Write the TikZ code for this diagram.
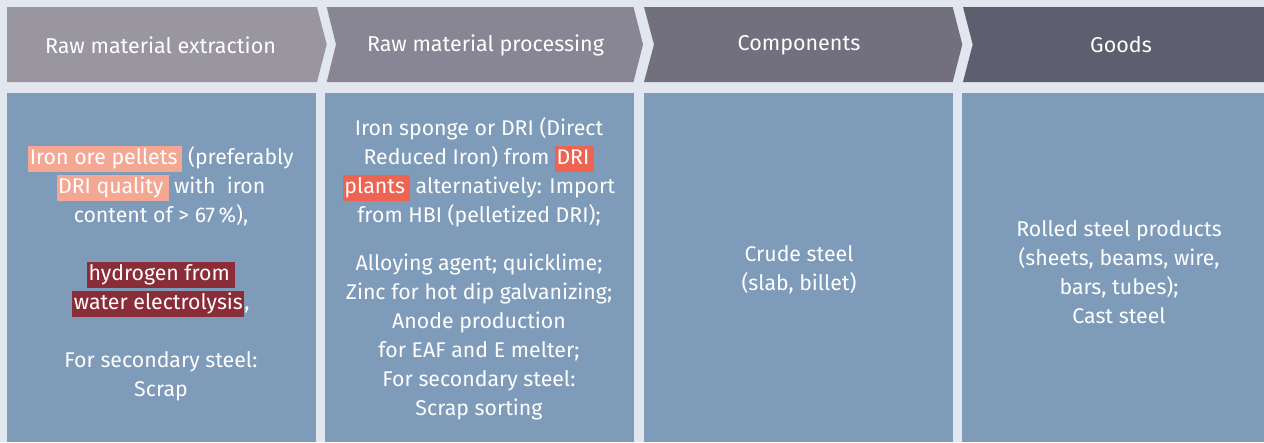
\documentclass[tikz,border=0pt]{standalone}
\usepackage{fontspec}
\setmainfont{Fira Sans}

\definecolor{pagebg}{HTML}{E2E6EE}
\definecolor{cellbg}{HTML}{7E9BBA}
\definecolor{headA}{HTML}{9A96A0}
\definecolor{headB}{HTML}{888594}
\definecolor{headC}{HTML}{72707F}
\definecolor{headD}{HTML}{5E5F6E}
\definecolor{hlsalmon}{HTML}{F4A894}
\definecolor{hlwine}{HTML}{8A2D38}
\definecolor{hlcoral}{HTML}{EE6352}

% highlighted words
\newcommand{\hlmark}[2]{{\setlength{\fboxsep}{1.5pt}\colorbox{#1}{\vrule height 16.5pt depth 6.5pt width 0pt#2}}}

\begin{document}
\begin{tikzpicture}[x=1pt, y=-1pt,
    head/.style={text=white, font=\fontsize{21.5}{24}\selectfont},
    cell/.style={text=white, align=center, font=\fontsize{21.3}{29}\selectfont}]
        % Background
        \useasboundingbox (0,0) rectangle (1264,442);
        \fill[pagebg] (0,0) rectangle (1264,442);

        % Header chevrons
        \fill[headA] (7,7) -- (317,7) -- (326.7,44.5) -- (317,82) -- (7,82) -- cycle;
        \fill[headB] (326.7,7) -- (633.5,7) -- (643,44.5) -- (633.5,82) -- (326.7,82) -- (336,44.5) -- cycle;
        \fill[headC] (644,7) -- (952.7,7) -- (962.3,44.5) -- (952.7,82) -- (644,82) -- (654,44.5) -- cycle;
        \fill[headD] (963,7) -- (1264,7) -- (1264,82) -- (963,82) -- (972.7,44.5) -- cycle;

        \node[head] (extraction) at (160.5,45) {Raw material extraction};
        \node[head] (processing) at (485.5,45) {Raw material processing};
        \node[head] (components) at (799,45) {Components};
        \node[head] (goods) at (1121,45) {Goods};

        % Columns
        \fill[cellbg] (7,93) rectangle (316,442);
        \fill[cellbg] (325,93) rectangle (634,442);
        \fill[cellbg] (644,93) rectangle (953,442);
        \fill[cellbg] (962,93) rectangle (1264,442);

        \node[cell] (ore) at (161,273.5) {\hlmark{hlsalmon}{Iron ore pellets\,} (preferably\\
            \hlmark{hlsalmon}{DRI quality\,} with~ iron\\
            content of > 67\,\%),\\[29pt]
            \hlmark{hlwine}{hydrogen from\,}\\
            \hlmark{hlwine}{water electrolysis},\\[29pt]
            For secondary steel:\\
            Scrap};

        \node[cell] (sponge) at (479,268.5) {Iron sponge or DRI (Direct\\
            Reduced Iron) from \hlmark{hlcoral}{DRI\,}\\
            \hlmark{hlcoral}{plants\,} alternatively: Import\\
            from HBI (pelletized DRI);\\[19pt]
            Alloying agent; quicklime;\\
            Zinc for hot dip galvanizing;\\
            Anode production\\
            for EAF and E melter;\\
            For secondary steel:\\
            Scrap sorting};

        \node[cell] (crude) at (799,269.5) {Crude steel\\(slab, billet)};

        \node[cell] (rolled) at (1119,272.5) {Rolled steel products\\
            (sheets, beams, wire,\\
            bars, tubes);\\
            Cast steel};
    \end{tikzpicture}
\end{document}
